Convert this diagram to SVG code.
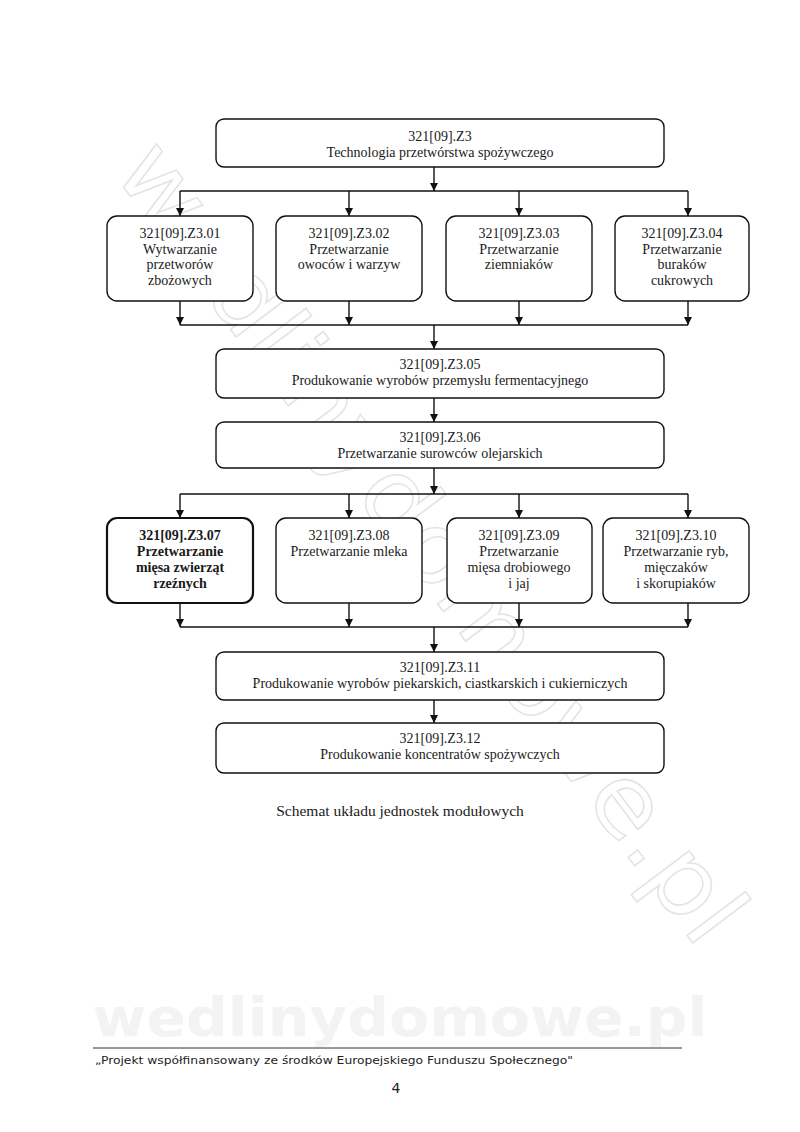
<svg xmlns="http://www.w3.org/2000/svg" width="800" height="1132" viewBox="0 0 800 1132">
<style>
.box{fill:#fff;stroke:#111;stroke-width:1.4}
.bold-box{fill:#fff;stroke:#111;stroke-width:2.2}
.t{font-family:"Liberation Serif","Times New Roman",serif;font-size:14px;fill:#1a1a1a;text-anchor:middle}
.b{font-weight:bold}
.c{fill:none;stroke:#111;stroke-width:1.4}
.wm{font-family:"DejaVu Sans",sans-serif;font-size:96px;fill:none;stroke:#e4e4e4;stroke-width:1.5}
.wm2{font-family:"DejaVu Sans",sans-serif;font-weight:bold;font-size:54px;fill:#f3f3f3}
.foot{font-family:"DejaVu Sans",sans-serif;font-size:11px;fill:#222}
</style>
<defs>
<marker id="ah" viewBox="0 0 8 10" refX="8" refY="5" markerWidth="8" markerHeight="10" markerUnits="userSpaceOnUse" orient="auto">
<path d="M0,1 L8,5 L0,9 Z" fill="#111"/>
</marker>
</defs>
<rect width="800" height="1132" fill="#fff"/>
<g id="watermark">
<text class="wm" x="0" y="0" transform="translate(112,172) rotate(53)" textLength="975" lengthAdjust="spacingAndGlyphs">wedlinydomowe.pl</text>
<text class="wm2" x="400" y="1036" text-anchor="middle" textLength="615" lengthAdjust="spacingAndGlyphs">wedlinydomowe.pl</text>
</g>
<g id="connectors">
<path class="c" d="M434,167 V191" marker-end="url(#ah)"/>
<path class="c" d="M180,191 H688"/>
<path class="c" d="M180,191 V216" marker-end="url(#ah)"/>
<path class="c" d="M349,191 V216" marker-end="url(#ah)"/>
<path class="c" d="M519,191 V216" marker-end="url(#ah)"/>
<path class="c" d="M688,191 V216" marker-end="url(#ah)"/>
<path class="c" d="M180,301 V325" marker-end="url(#ah)"/>
<path class="c" d="M349,301 V325" marker-end="url(#ah)"/>
<path class="c" d="M519,301 V325" marker-end="url(#ah)"/>
<path class="c" d="M688,301 V325" marker-end="url(#ah)"/>
<path class="c" d="M180,325 H688"/>
<path class="c" d="M434,325 V349" marker-end="url(#ah)"/>
<path class="c" d="M434,398 V422" marker-end="url(#ah)"/>
<path class="c" d="M434,468 V494" marker-end="url(#ah)"/>
<path class="c" d="M180,494 H688"/>
<path class="c" d="M180,494 V518" marker-end="url(#ah)"/>
<path class="c" d="M349,494 V518" marker-end="url(#ah)"/>
<path class="c" d="M519,494 V518" marker-end="url(#ah)"/>
<path class="c" d="M688,494 V518" marker-end="url(#ah)"/>
<path class="c" d="M180,603 V627" marker-end="url(#ah)"/>
<path class="c" d="M349,603 V627" marker-end="url(#ah)"/>
<path class="c" d="M519,603 V627" marker-end="url(#ah)"/>
<path class="c" d="M688,603 V627" marker-end="url(#ah)"/>
<path class="c" d="M180,627 H688"/>
<path class="c" d="M434,627 V652" marker-end="url(#ah)"/>
<path class="c" d="M434,700 V723" marker-end="url(#ah)"/>
</g>
<g id="n-z3">
<rect class="box" x="216" y="119" width="448" height="48" rx="8"/>
<text class="t" x="440" y="141">321[09].Z3</text>
<text class="t" x="440" y="157">Technologia przetwórstwa spożywczego</text>
</g>
<g id="n-z301">
<rect class="box" x="107" y="216" width="146" height="85" rx="10"/>
<text class="t" x="180" y="238">321[09].Z3.01</text>
<text class="t" x="180" y="253.5">Wytwarzanie</text>
<text class="t" x="180" y="269">przetworów</text>
<text class="t" x="180" y="284.5">zbożowych</text>
</g>
<g id="n-z302">
<rect class="box" x="276" y="216" width="146" height="85" rx="10"/>
<text class="t" x="349" y="238">321[09].Z3.02</text>
<text class="t" x="349" y="253.5">Przetwarzanie</text>
<text class="t" x="349" y="269">owoców i warzyw</text>
</g>
<g id="n-z303">
<rect class="box" x="446" y="216" width="146" height="85" rx="10"/>
<text class="t" x="519" y="238">321[09].Z3.03</text>
<text class="t" x="519" y="253.5">Przetwarzanie</text>
<text class="t" x="519" y="269">ziemniaków</text>
</g>
<g id="n-z304">
<rect class="box" x="615" y="216" width="134" height="85" rx="10"/>
<text class="t" x="682" y="238">321[09].Z3.04</text>
<text class="t" x="682" y="253.5">Przetwarzanie</text>
<text class="t" x="682" y="269">buraków</text>
<text class="t" x="682" y="284.5">cukrowych</text>
</g>
<g id="n-z305">
<rect class="box" x="216" y="349" width="448" height="49" rx="8"/>
<text class="t" x="440" y="369">321[09].Z3.05</text>
<text class="t" x="440" y="385">Produkowanie wyrobów przemysłu fermentacyjnego</text>
</g>
<g id="n-z306">
<rect class="box" x="216" y="422" width="448" height="46" rx="8"/>
<text class="t" x="440" y="442">321[09].Z3.06</text>
<text class="t" x="440" y="458">Przetwarzanie surowców olejarskich</text>
</g>
<g id="n-z307">
<rect class="bold-box" x="107" y="518" width="146" height="85" rx="10"/>
<text class="t b" x="180" y="540">321[09].Z3.07</text>
<text class="t b" x="180" y="556">Przetwarzanie</text>
<text class="t b" x="180" y="572">mięsa zwierząt</text>
<text class="t b" x="180" y="588">rzeźnych</text>
</g>
<g id="n-z308">
<rect class="box" x="276" y="518" width="146" height="85" rx="10"/>
<text class="t" x="349" y="540">321[09].Z3.08</text>
<text class="t" x="349" y="556">Przetwarzanie mleka</text>
</g>
<g id="n-z309">
<rect class="box" x="447" y="518" width="145" height="85" rx="10"/>
<text class="t" x="519" y="540">321[09].Z3.09</text>
<text class="t" x="519" y="556">Przetwarzanie</text>
<text class="t" x="519" y="572">mięsa drobiowego</text>
<text class="t" x="519" y="588">i jaj</text>
</g>
<g id="n-z310">
<rect class="box" x="603" y="518" width="146" height="85" rx="10"/>
<text class="t" x="676" y="540">321[09].Z3.10</text>
<text class="t" x="676" y="556">Przetwarzanie ryb,</text>
<text class="t" x="676" y="572">mięczaków</text>
<text class="t" x="676" y="588">i skorupiaków</text>
</g>
<g id="n-z311">
<rect class="box" x="216" y="652" width="448" height="48" rx="8"/>
<text class="t" x="440" y="672">321[09].Z3.11</text>
<text class="t" x="440" y="688">Produkowanie wyrobów piekarskich, ciastkarskich i cukierniczych</text>
</g>
<g id="n-z312">
<rect class="box" x="216" y="723" width="448" height="50" rx="8"/>
<text class="t" x="440" y="743">321[09].Z3.12</text>
<text class="t" x="440" y="759">Produkowanie koncentratów spożywczych</text>
</g>
<text class="t" x="400" y="816" style="font-size:15.5px">Schemat układu jednostek modułowych</text>
<line x1="93" y1="1048" x2="682" y2="1048" stroke="#333" stroke-width="1"/>
<text class="foot" x="95" y="1064" textLength="478" lengthAdjust="spacingAndGlyphs">„Projekt współfinansowany ze środków Europejskiego Funduszu Społecznego"</text>
<text class="foot" x="396" y="1093" text-anchor="middle" style="font-size:14px">4</text>
</svg>
